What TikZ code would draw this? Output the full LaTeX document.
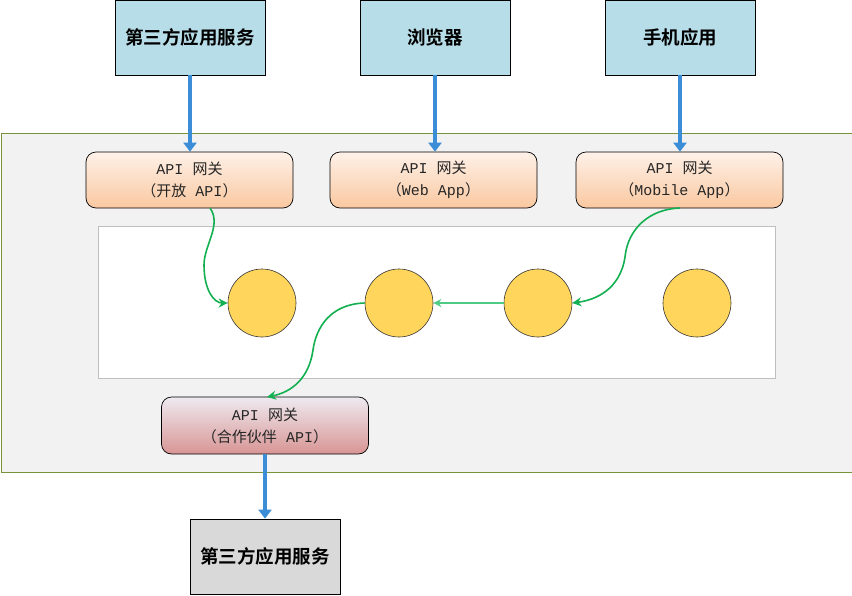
\documentclass[tikz,border=0pt]{standalone}
\usepackage{fontspec}
\setmainfont{Liberation Mono}
\newfontfamily\cjk{Noto Sans CJK SC}
\newfontfamily\cjkbold{Noto Sans CJK SC Bold}
\usetikzlibrary{arrows.meta}
\definecolor{clientblue}{HTML}{B7DDE8}
\definecolor{flowblue}{HTML}{3A8DD6}
\definecolor{outergray}{HTML}{F2F2F2}
\definecolor{outerline}{HTML}{77933C}
\definecolor{innerline}{HTML}{BFBFBF}
\definecolor{peachtop}{HTML}{FEF1E8}
\definecolor{peachbot}{HTML}{FAC8A0}
\definecolor{rosetop}{HTML}{EEEAF0}
\definecolor{rosebot}{HTML}{D89594}
\definecolor{svcgold}{HTML}{FFD55C}
\definecolor{linkgreen}{HTML}{12B050}
\definecolor{linkgreenlt}{HTML}{4DCB84}
\definecolor{extgray}{HTML}{D9D9D9}
\definecolor{gwtext}{HTML}{262626}
\tikzset{
  client/.style={draw=black, line width=0.8pt, fill=clientblue, minimum width=150pt, minimum height=75pt, inner sep=0pt, font=\cjkbold\fontsize{18.5}{22}\selectfont},
  gateway/.style={draw=black, line width=0.7pt, rounded corners=10pt, top color=peachtop, bottom color=peachbot, minimum width=207pt, minimum height=56pt, inner sep=0pt, align=center, text=gwtext, font=\fontsize{15}{22}\selectfont},
  partner/.style={gateway, top color=rosetop, bottom color=rosebot, minimum height=57pt},
  service/.style={circle, draw=black!80, line width=0.6pt, fill=svcgold, minimum size=68pt, inner sep=0pt},
  bluearrow/.style={draw=flowblue, line width=3.5pt, -{Triangle[length=9pt,width=13pt]}},
  greenlink/.style={draw=linkgreen, line width=1.6pt, -{Stealth[length=9pt,width=9pt]}},
}
\newcommand{\zh}[1]{{\cjk #1}}
\begin{document}
\begin{tikzpicture}[x=1pt,y=-1pt]
\useasboundingbox (0,0) rectangle (852,595);
% platform background and service area
\node[draw=outerline, line width=0.9pt, fill=outergray, minimum width=851pt, minimum height=339pt, inner sep=0pt, anchor=north west] (platform) at (0.5,133) {};
\node[draw=innerline, line width=0.9pt, fill=white, minimum width=677pt, minimum height=152pt, inner sep=0pt, anchor=north west] (svcarea) at (98,226) {};
% client applications
\node[client] (c1) at (190,37.5) {第三方应用服务};
\node[client] (c2) at (435,37.5) {浏览器};
\node[client] (c3) at (680,37.5) {手机应用};
% gateways
\node[gateway] (g1) at (189.5,180) {API \zh{网关}\\\zh{（开放} API\zh{）}};
\node[gateway] (g2) at (433.5,180) {API \zh{网关}\\\zh{（}Web App\zh{）}};
\node[gateway] (g3) at (679.5,180) {API \zh{网关}\\\zh{（}Mobile App\zh{）}};
\node[partner] (g4) at (265,425.5) {API \zh{网关}\\\zh{（合作伙伴} API\zh{）}};
% services
\node[service] (s1) at (262,303) {};
\node[service] (s2) at (399,303) {};
\node[service] (s3) at (538,303) {};
\node[service] (s4) at (697,303) {};
% external consumer
\node[client, fill=extgray] (ext) at (265,556.5) {第三方应用服务};
% request flow
\draw[bluearrow] (c1.south) -- (c1.south |- g1.north);
\draw[bluearrow] (c2.south) -- (c2.south |- g2.north);
\draw[bluearrow] (c3.south) -- (c3.south |- g3.north);
\draw[bluearrow] (g4.south) -- (ext.north);
% internal calls
\coordinate (g1out) at (210,208);
\coordinate (g3out) at (680,208);
\coordinate (g4in) at (267,397);
\draw[greenlink] (g1out) .. controls (222,225) and (204,245) .. (204,265) .. controls (204,290) and (214,303) .. (s1.west);
\draw[greenlink] (g3out) .. controls (650,209) and (628,228) .. (625,257) .. controls (620,290) and (595,300) .. (s3.east);
\draw[draw=linkgreenlt, line width=1.3pt, -{Stealth[length=8pt,width=8pt]}] (s3.west) -- (s2.east);
\draw[greenlink] (s2.west) .. controls (330,304) and (316,328) .. (313,350) .. controls (309,378) and (292,392) .. (g4in);
\end{tikzpicture}
\end{document}
